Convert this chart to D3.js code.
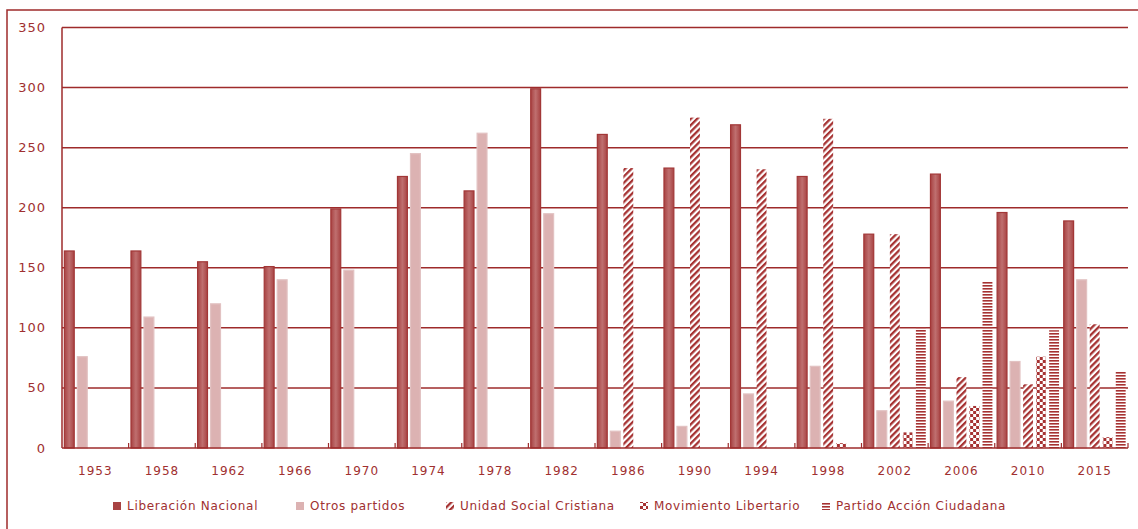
<!DOCTYPE html>
<html>
<head>
<meta charset="utf-8">
<script src="https://cdn.jsdelivr.net/npm/d3@7"></script>
<style>
  body { margin: 0; background: #fff; }
  svg text { font-family: "DejaVu Sans", Verdana, sans-serif; fill: #a03030; }
</style>
</head>
<body>
<div id="chart"></div>
<script>
// elecciones legislativas / presidenciales, por partido
var years = ["1953","1958","1962","1966","1970","1974","1978","1982","1986","1990","1994","1998","2002","2006","2010","2015"];
var series = ["Liberación Nacional","Otros partidos","Unidad Social Cristiana","Movimiento Libertario","Partido Acción Ciudadana"];

var liberacion = [164,164,155,151,199,226,214,299,261,233,269,226,178,228,196,189];
var otros      = [76,109,120,140,148,245,262,195,14,18,45,68,31,39,72,140];
var unidad     = [null,null,null,null,null,null,null,null,233,275,232,274,178,59,53,103];
var libertario = [null,null,null,null,null,null,null,null,null,null,null,4,13,35,76,9];
var accion     = [null,null,null,null,null,null,null,null,null,null,null,null,101,139,98,64];

var yTicks = [0,50,100,150,200,250,300,350];

var values = [liberacion, otros, unidad, libertario, accion];

var red = "#9e2b2b";
var w = 1138, h = 529;

var svg = d3.select("#chart").append("svg")
    .attr("width", w)
    .attr("height", h);

// patterns
var defs = svg.append("defs");

var grad = defs.append("linearGradient")
    .attr("id", "grad-ln")
    .attr("x1", "0").attr("x2", "1").attr("y1", "0").attr("y2", "0");
grad.append("stop").attr("offset", "0").attr("stop-color", "#a84343");
grad.append("stop").attr("offset", "0.5").attr("stop-color", "#bf6f6f");
grad.append("stop").attr("offset", "1").attr("stop-color", "#a84343");

var pDiag = defs.append("pattern")
    .attr("id", "pat-diag")
    .attr("patternUnits", "userSpaceOnUse")
    .attr("width", 4.5).attr("height", 4.5)
    .attr("patternTransform", "rotate(45)");
pDiag.append("rect").attr("width", 4.5).attr("height", 4.5).attr("fill", "#fff");
pDiag.append("rect").attr("width", 2.3).attr("height", 4.5).attr("fill", "#a63232");

var pCheck = defs.append("pattern")
    .attr("id", "pat-check")
    .attr("patternUnits", "userSpaceOnUse")
    .attr("width", 6).attr("height", 6);
pCheck.append("rect").attr("width", 6).attr("height", 6).attr("fill", "#fff");
pCheck.append("rect").attr("width", 3).attr("height", 3).attr("fill", "#a63232");
pCheck.append("rect").attr("x", 3).attr("y", 3).attr("width", 3).attr("height", 3).attr("fill", "#a63232");

var pHoriz = defs.append("pattern")
    .attr("id", "pat-horiz")
    .attr("patternUnits", "userSpaceOnUse")
    .attr("width", 4).attr("height", 3);
pHoriz.append("rect").attr("width", 4).attr("height", 3).attr("fill", "#fff");
pHoriz.append("rect").attr("width", 4).attr("height", 1.6).attr("fill", "#a63232");

var fills = ["url(#grad-ln)", "#dcb2b2", "url(#pat-diag)", "url(#pat-check)", "url(#pat-horiz)"];
var legendFills = ["#a84343", "#dcb2b2", "url(#pat-diag)", "url(#pat-check)", "url(#pat-horiz)"];
var strokes = ["#a23737", "#e2c2c2", "none", "none", "none"];

// outer frame
svg.append("rect")
    .attr("x", 7).attr("y", 10)
    .attr("width", w + 20).attr("height", h + 20)
    .attr("fill", "none")
    .attr("stroke", red)
    .attr("stroke-width", 1.5);

var x0 = d3.scaleBand()
    .domain(years)
    .range([62, 1128]);

var x1 = d3.scaleBand()
    .domain(series)
    .range([0, x0.bandwidth()])
    .paddingInner(0.24)
    .paddingOuter(0.18);

var y = d3.scaleLinear()
    .domain([0, 350])
    .range([448, 27.5]);

// grid
svg.append("g")
    .selectAll("line")
    .data(yTicks.filter(function(d){ return d > 0; }))
    .enter()
    .append("line")
    .attr("x1", 62).attr("x2", 1128)
    .attr("y1", function(d){ return y(d); })
    .attr("y2", function(d){ return y(d); })
    .attr("stroke", red)
    .attr("stroke-width", 1.5);

svg.append("line")
    .attr("x1", 62).attr("x2", 62)
    .attr("y1", y(350)).attr("y2", y(0))
    .attr("stroke", red)
    .attr("stroke-width", 1.5);

// y labels
svg.append("g")
    .selectAll("text")
    .data(yTicks)
    .enter()
    .append("text")
    .attr("x", 46)
    .attr("y", function(d){ return y(d); })
    .attr("dy", "0.35em")
    .attr("text-anchor", "end")
    .style("font-size", "13px")
    .style("letter-spacing", "1px")
    .text(function(d){ return d; });

// bars
var groups = svg.append("g")
    .selectAll("g")
    .data(years)
    .enter()
    .append("g")
    .attr("transform", function(d){ return "translate(" + x0(d) + ",0)"; });

groups.selectAll("rect")
    .data(function(d, i){
        return series.map(function(s, j){ return {s: s, j: j, v: values[j][i]}; })
                     .filter(function(e){ return e.v != null; });
    })
    .enter()
    .append("rect")
    .attr("x", function(d){ return x1(d.s); })
    .attr("width", x1.bandwidth())
    .attr("y", function(d){ return y(d.v); })
    .attr("height", function(d){ return y(0) - y(d.v); })
    .attr("fill", function(d){ return fills[d.j]; })
    .attr("stroke", function(d){ return strokes[d.j]; })
    .attr("stroke-width", 1.2);

// baseline + small ticks between groups
svg.append("line")
    .attr("x1", 62).attr("x2", 1128)
    .attr("y1", y(0)).attr("y2", y(0))
    .attr("stroke", red)
    .attr("stroke-width", 1.5);

svg.append("g")
    .selectAll("line")
    .data(years)
    .enter()
    .append("line")
    .attr("x1", function(d){ return x0(d) + x0.bandwidth(); })
    .attr("x2", function(d){ return x0(d) + x0.bandwidth(); })
    .attr("y1", y(0)).attr("y2", y(0) - 5)
    .attr("stroke", red)
    .attr("stroke-width", 1.2);

// x labels
svg.append("g")
    .selectAll("text")
    .data(years)
    .enter()
    .append("text")
    .attr("x", function(d){ return x0(d) + x0.bandwidth() / 2; })
    .attr("y", 475)
    .attr("text-anchor", "middle")
    .style("font-size", "12px")
    .style("letter-spacing", "1px")
    .text(function(d){ return d; });

// legend
var legendX = [113, 296, 446, 640, 822];
var legend = svg.append("g")
    .selectAll("g")
    .data(series)
    .enter()
    .append("g")
    .attr("transform", function(d, i){ return "translate(" + legendX[i] + ",506)"; });

legend.append("rect")
    .attr("x", 0).attr("y", -4)
    .attr("width", 8).attr("height", 8)
    .attr("fill", function(d, i){ return legendFills[i]; });

legend.append("text")
    .attr("x", 14)
    .attr("dy", "0.35em")
    .style("font-size", "12px")
    .style("letter-spacing", "0.7px")
    .text(function(d){ return d; });
</script>
</body>
</html>
